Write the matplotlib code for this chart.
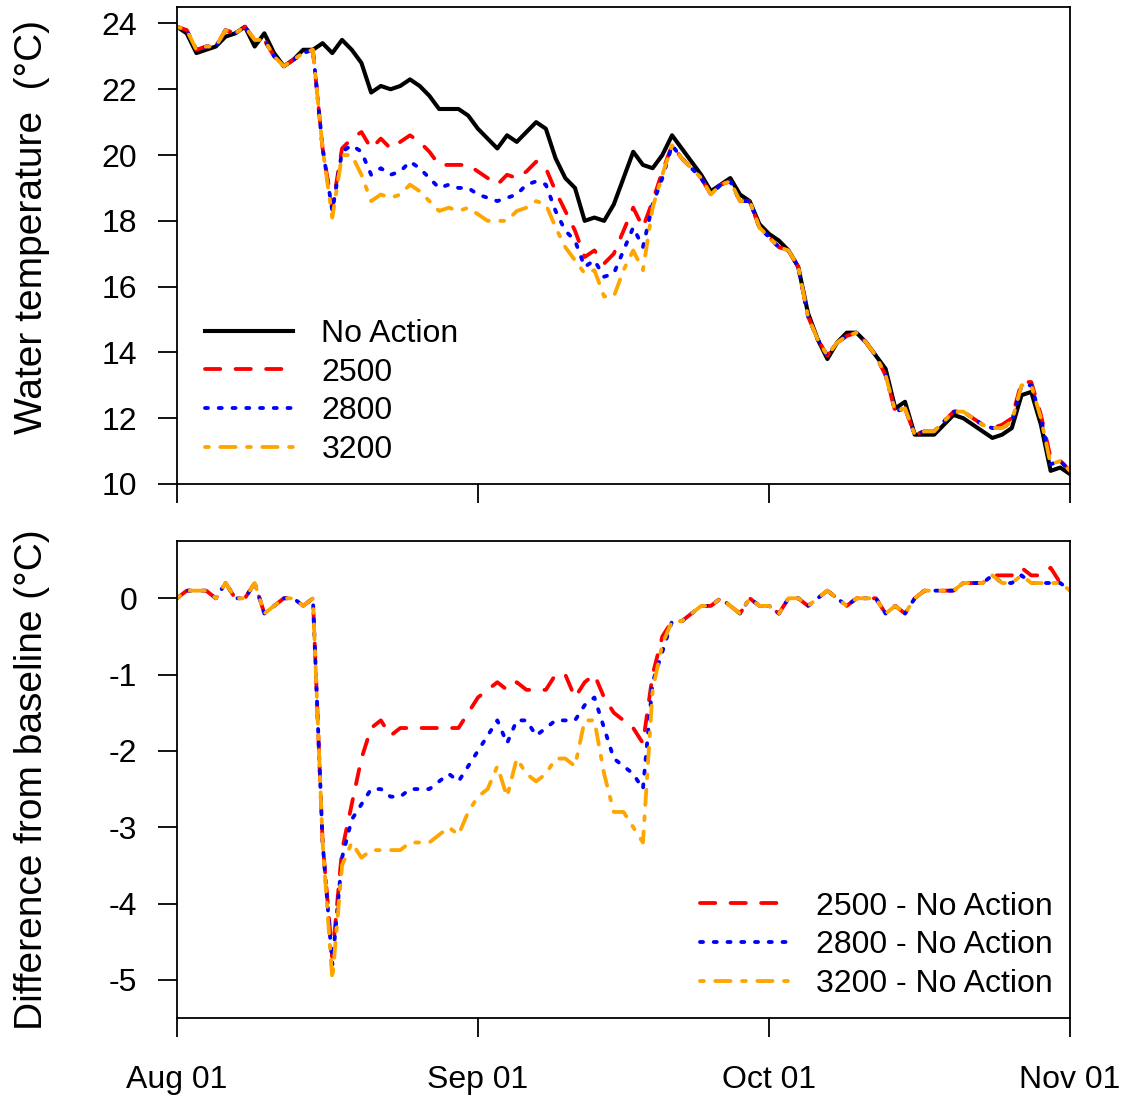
import numpy as np
import pandas as pd
import matplotlib
matplotlib.use("Agg")
import matplotlib.pyplot as plt
import matplotlib.dates as mdates

plt.rcParams["font.family"] = ["Liberation Sans", "DejaVu Sans"]
plt.rcParams["axes.unicode_minus"] = False

# daily series, Aug 01 .. Nov 01
dates = pd.date_range("2015-08-01", "2015-11-01", freq="D")

# baseline water temperature (No Action), degC
no_action = [
    23.9, 23.7, 23.1, 23.2, 23.3, 23.6, 23.7, 23.9, 23.3, 23.7,
    23.1, 22.7, 22.9, 23.2, 23.2, 23.4, 23.1, 23.5, 23.2, 22.8,
    21.9, 22.1, 22.0, 22.1, 22.3, 22.1, 21.8, 21.4, 21.4, 21.4,
    21.2, 20.8, 20.5, 20.2, 20.6, 20.4, 20.7, 21.0, 20.8, 19.9,
    19.3, 19.0, 18.0, 18.1, 18.0, 18.5, 19.3, 20.1, 19.7, 19.6,
    20.0, 20.6, 20.2, 19.8, 19.4, 18.9, 19.1, 19.3, 18.8, 18.6,
    17.9, 17.6, 17.4, 17.1, 16.6, 15.2, 14.4, 13.8, 14.3, 14.6,
    14.6, 14.3, 13.9, 13.5, 12.3, 12.5, 11.5, 11.5, 11.5, 11.8,
    12.1, 12.0, 11.8, 11.6, 11.4, 11.5, 11.7, 12.7, 12.8, 11.8,
    10.4, 10.5, 10.3,
]

# scenario minus baseline, degC
diff_2500 = [
    0.0, 0.1, 0.1, 0.1, 0.0, 0.2, 0.0, 0.0, 0.2, -0.2,
    -0.1, 0.0, 0.0, -0.1, 0.0, -3.2, -4.7, -3.3, -2.7, -2.1,
    -1.7, -1.6, -1.8, -1.7, -1.7, -1.7, -1.7, -1.7, -1.7, -1.7,
    -1.5, -1.3, -1.2, -1.1, -1.2, -1.1, -1.2, -1.2, -1.2, -1.0,
    -1.0, -1.3, -1.1, -1.0, -1.3, -1.5, -1.6, -1.7, -1.9, -1.0,
    -0.5, -0.3, -0.3, -0.2, -0.1, -0.1, 0.0, -0.1, -0.2, 0.0,
    -0.1, -0.1, -0.2, 0.0, 0.0, -0.1, 0.0, 0.1, 0.0, -0.1,
    0.0, 0.0, 0.0, -0.2, -0.1, -0.2, 0.0, 0.1, 0.1, 0.1,
    0.1, 0.2, 0.2, 0.2, 0.3, 0.3, 0.3, 0.4, 0.3, 0.3,
    0.4, 0.2, 0.1,
]
diff_2800 = [
    0.0, 0.1, 0.1, 0.1, 0.0, 0.2, 0.0, 0.0, 0.2, -0.2,
    -0.1, 0.0, 0.0, -0.1, 0.0, -3.2, -4.8, -3.4, -2.9, -2.7,
    -2.5, -2.5, -2.6, -2.6, -2.5, -2.5, -2.5, -2.4, -2.3, -2.4,
    -2.2, -2.0, -1.8, -1.6, -1.9, -1.6, -1.6, -1.8, -1.7, -1.6,
    -1.6, -1.6, -1.4, -1.3, -1.7, -2.1, -2.2, -2.3, -2.5, -1.1,
    -0.7, -0.3, -0.3, -0.2, -0.1, -0.1, 0.0, -0.1, -0.2, 0.0,
    -0.1, -0.1, -0.2, 0.0, 0.0, -0.1, 0.0, 0.1, 0.0, -0.1,
    0.0, 0.0, 0.0, -0.2, -0.1, -0.2, 0.0, 0.1, 0.1, 0.1,
    0.1, 0.2, 0.2, 0.2, 0.3, 0.2, 0.2, 0.3, 0.2, 0.2,
    0.2, 0.2, 0.1,
]
diff_3200 = [
    0.0, 0.1, 0.1, 0.1, 0.0, 0.2, 0.0, 0.0, 0.2, -0.2,
    -0.1, 0.0, 0.0, -0.1, 0.0, -3.2, -5.0, -3.5, -3.2, -3.4,
    -3.3, -3.3, -3.3, -3.3, -3.2, -3.2, -3.2, -3.1, -3.0, -3.1,
    -2.8, -2.6, -2.5, -2.2, -2.6, -2.1, -2.3, -2.4, -2.3, -2.1,
    -2.1, -2.2, -1.6, -1.6, -2.3, -2.8, -2.8, -3.0, -3.2, -1.2,
    -0.6, -0.3, -0.3, -0.2, -0.1, -0.1, 0.0, -0.1, -0.2, 0.0,
    -0.1, -0.1, -0.2, 0.0, 0.0, -0.1, 0.0, 0.1, 0.0, -0.1,
    0.0, 0.0, 0.0, -0.2, -0.1, -0.2, 0.0, 0.1, 0.1, 0.1,
    0.1, 0.2, 0.2, 0.2, 0.3, 0.2, 0.2, 0.3, 0.2, 0.2,
    0.2, 0.2, 0.1,
]

scenarios = ["2500", "2800", "3200"]
diffs = [diff_2500, diff_2800, diff_3200]
colors = ["red", "blue", "orange"]
# R lty 2 / 3 / 4, in linewidth units
dashes = [(4, 4), (0.8, 2.8), (1, 3, 4, 3)]

base = np.array(no_action)
LW = 2.75
FS = 23

fig = plt.figure(figsize=(11.26, 10.97), dpi=100)
ax1 = fig.add_axes([0.1572, 0.5588, 0.7931, 0.4348])
ax2 = fig.add_axes([0.1572, 0.0720, 0.7931, 0.4348])

ax1.plot(dates, base, color="black", lw=LW + 0.2, label="No Action",
         solid_joinstyle="round")
for name, d, c, ds in zip(scenarios, diffs, colors, dashes):
    ax1.plot(dates, base + np.array(d), color=c, lw=LW, dashes=ds,
             dash_capstyle="round", dash_joinstyle="round", label=name)
    ax2.plot(dates, d, color=c, lw=LW, dashes=ds,
             dash_capstyle="round", dash_joinstyle="round",
             label=name + " - No Action")

ax1.set_ylim(10, 24.5)
ax1.set_yticks(np.arange(10, 25, 2))
ax2.set_ylim(-5.5, 0.75)
ax2.set_yticks(np.arange(-5, 1, 1))

for ax in (ax1, ax2):
    ax.set_xlim(dates[0], dates[-1])
    ax.xaxis.set_major_locator(mdates.MonthLocator())
    ax.xaxis.set_major_formatter(mdates.DateFormatter("%b %d"))
    ax.tick_params(direction="out", length=14, width=1.3, labelsize=FS,
                   color="black")
    ax.tick_params(axis="y", pad=14.5)
    ax.tick_params(axis="x", pad=20)
    for sp in ax.spines.values():
        sp.set_linewidth(1.3)

ax1.tick_params(axis="x", labelbottom=False)

ax1.set_ylabel("Water temperature  (°C)", fontsize=28)
ax2.set_ylabel("Difference from baseline (°C)", fontsize=28)
ax1.yaxis.set_label_coords(-0.142, 0.538)
ax2.yaxis.set_label_coords(-0.142, 0.5)

leg_kw = dict(frameon=False, fontsize=FS, handlelength=2.76,
              handletextpad=0.88, labelspacing=0.27, borderpad=0,
              borderaxespad=0, loc="upper left")
ax1.legend(bbox_to_anchor=(0.0314, 0.346), **leg_kw)
ax2.legend(bbox_to_anchor=(0.5857, 0.265), **leg_kw)

fig.savefig("out.png", dpi=100)
